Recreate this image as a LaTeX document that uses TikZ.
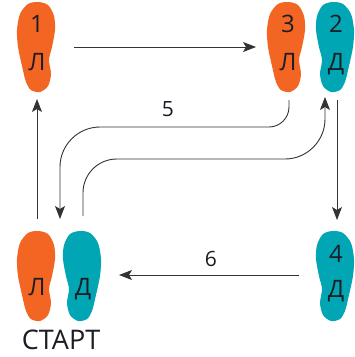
\documentclass[tikz,border=0pt]{standalone}
\usepackage{fontspec}
\setmainfont{Open Sans}
\usetikzlibrary{arrows.meta}
\definecolor{footor}{HTML}{F26522}
\definecolor{footteal}{HTML}{00A6B4}
\definecolor{ink}{HTML}{1C1C24}
\definecolor{linec}{HTML}{333333}
\begin{document}
\begin{tikzpicture}[x=1pt,y=-1pt,
  conn/.style={draw=linec, line width=0.9pt, -{Stealth[length=13pt,width=10pt,inset=3pt]}},
  ftxt/.style={text=ink, font=\fontsize{24}{24}\selectfont, inner sep=0pt, anchor=base},
  lbl/.style={text=ink, font=\fontsize{21}{21}\selectfont, inner sep=0pt, anchor=base},
  lfoot/.pic={\path[pic actions] plot[smooth cycle] coordinates {(21,0) (31,3) (37,14) (38,28) (35,45) (32,58) (34,72) (31,84) (23,90) (14,88) (9,80) (5,64) (1,45) (0,28) (3,12) (11,2)};},
  rfoot/.pic={\path[pic actions] plot[smooth cycle] coordinates {(17,0) (7,3) (1,14) (0,28) (3,45) (6,58) (4,72) (7,84) (15,90) (24,88) (29,80) (33,64) (37,45) (38,28) (35,12) (27,2)};}
]
\useasboundingbox (0,0) rectangle (355,357);
% feet
\pic[fill=footor] at (17,2) {lfoot};
\pic[fill=footor] at (267,2) {lfoot};
\pic[fill=footteal] at (316,2) {rfoot};
\pic[fill=footteal] at (316,231) {rfoot};
\pic[fill=footor] at (17,231) {lfoot};
\pic[fill=footteal] at (63,231) {rfoot};
% foot texts
\node[ftxt] (n1) at (37,32) {1};
\node[ftxt] (l1) at (37,70) {Л};
\node[ftxt] (n3) at (288,32) {3};
\node[ftxt] (l3) at (288,70) {Л};
\node[ftxt] (n2) at (336,32) {2};
\node[ftxt] (l2) at (336,70) {Д};
\node[ftxt] (n4) at (336,262) {4};
\node[ftxt] (l4) at (336,297) {Д};
\node[ftxt] (ls) at (37,295) {Л};
\node[ftxt] (rs) at (83,295) {Д};
\node[text=ink, font=\fontsize{27}{27}\selectfont, inner sep=0pt, text depth=0pt, anchor=base] (start) at (61,349) {СТАРТ};
% labels
\node[lbl] (t5) at (168,116) {5};
\node[lbl] (t6) at (211,266) {6};
% connector end points
\coordinate (a1s) at (74,47);
\coordinate (a1e) at (256,47);
\coordinate (a2s) at (337,100);
\coordinate (a2e) at (337,220);
\coordinate (a3s) at (299,275);
\coordinate (a3e) at (119,275);
\coordinate (a4s) at (37,219);
\coordinate (a4e) at (37,99);
\coordinate (a5s) at (289,100);
\coordinate (a5e) at (60,219);
\coordinate (a6s) at (83,216);
\coordinate (a6e) at (325,97);
% connectors
\draw[conn] (a1s) -- (a1e);
\draw[conn] (a2s) -- (a2e);
\draw[conn] (a3s) -- (a3e);
\draw[conn] (a4s) -- (a4e);
\draw[conn] (a5s) -- (289,107) .. controls (289,118) and (280,127) .. (269,127) -- (100,127) .. controls (78,127) and (60,145) .. (60,167) -- (a5e);
\draw[conn] (a6s) -- (83,193) .. controls (83,174) and (98,159) .. (117,159) -- (285,159) .. controls (307,159) and (325,141) .. (325,119) -- (a6e);
\end{tikzpicture}
\end{document}
